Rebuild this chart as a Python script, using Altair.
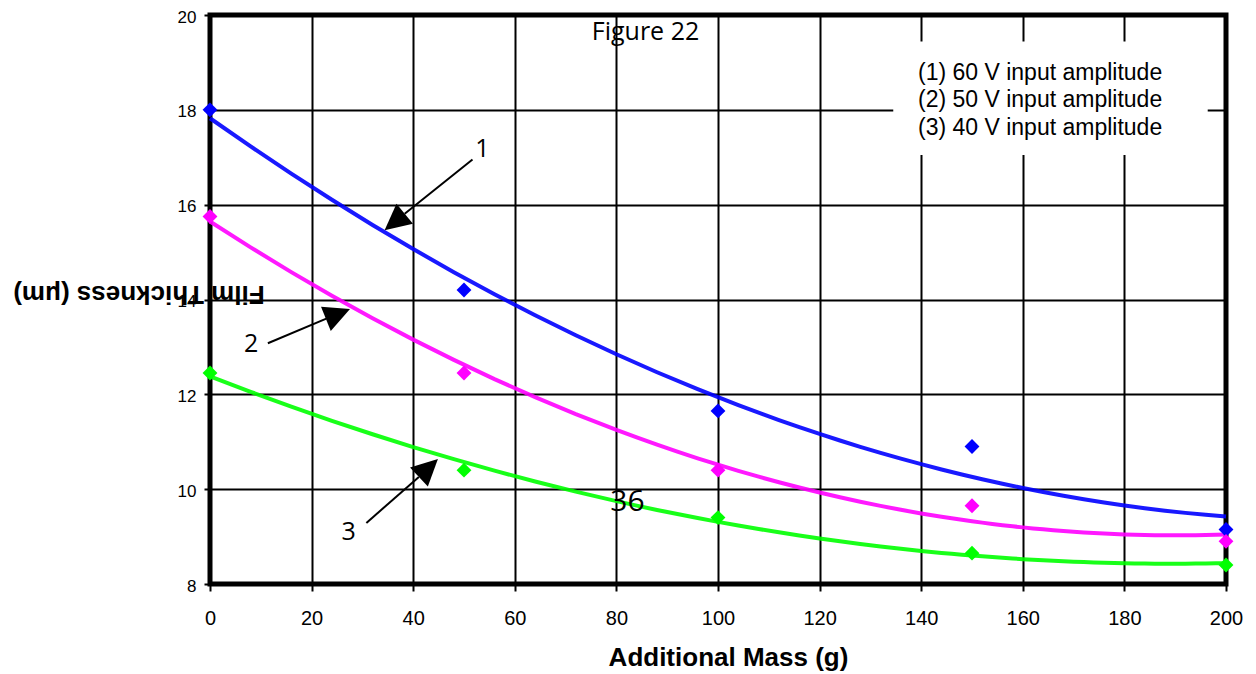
import altair as alt
import pandas as pd

# ---- data ----
mass = [0, 50, 100, 150, 200]
thick_60v = [18.0, 14.2, 11.65, 10.9, 9.15]
thick_50v = [15.75, 12.45, 10.4, 9.65, 8.9]
thick_40v = [12.45, 10.4, 9.4, 8.65, 8.4]
series_names = ["60 V", "50 V", "40 V"]
series_colors = ["#0000FF", "#FF00FF", "#00FF00"]
x_ticks = [0, 20, 40, 60, 80, 100, 120, 140, 160, 180, 200]
y_ticks = [8, 10, 12, 14, 16, 18, 20]

legend_lines = ["(1) 60 V input amplitude", "(2) 50 V input amplitude", "(3) 40 V input amplitude"]
legend_x = [163.4, 163.4, 163.4]
legend_y = [18.62, 18.05, 17.46]
legend_box = {"x": 134.5, "x2": 196.4, "y": 17.05, "y2": 19.44}

# arrows (data coordinates): line start -> line end, head centre and heading
arrow_x = [51.67, 11.39, 30.78]
arrow_y = [16.952, 13.078, 9.288]
arrow_x2 = [38.33, 22.90, 41.11]
arrow_y2 = [15.807, 13.596, 10.257]
head_x = [36.35, 25.19, 43.0]
head_y = [15.636, 13.695, 10.446]
head_angle = [230.7, 68.0, 46.8]

label_text = ["1", "2", "3"]
label_x = [53.6, 8.12, 27.29]
label_y = [17.01, 12.90, 8.937]

rows = []
for name, vals in zip(series_names, [thick_60v, thick_50v, thick_40v]):
    for m, v in zip(mass, vals):
        rows.append({"mass": m, "thickness": v, "series": name})
df = pd.DataFrame(rows)

x_scale = alt.Scale(domain=[0, 200], nice=False, zero=False)
y_scale = alt.Scale(domain=[8, 20], nice=False, zero=False)
color_scale = alt.Scale(domain=series_names, range=series_colors)

x_axis = alt.Axis(
    values=x_ticks, title="Additional Mass (g)",
    titleFont="Liberation Sans", titleFontSize=26, titleFontWeight="bold", titleColor="black",
    titleX=518, titleY=81.6, titleAlign="center", titleBaseline="alphabetic",
    labelFont="Liberation Sans", labelFontSize=20, labelColor="black", labelPadding=17,
    labelFlush=False, labelOverlap=False,
    tickSize=7, tickWidth=2, tickColor="black",
    grid=True, gridColor="black", gridWidth=2, gridOpacity=1, domain=False,
)
y_axis = alt.Axis(
    values=y_ticks, title="Film Thickness (μm)",
    titleFont="Liberation Sans", titleFontSize=26, titleFontWeight="bold", titleColor="black",
    titleAngle=180, titleX=-71.5, titleY=278.6, titleAlign="center", titleBaseline="middle",
    labelFont="Liberation Sans", labelFontSize=17, labelColor="black", labelPadding=8,
    labelOffset=2, labelFlush=False, labelOverlap=False,
    tickSize=6, tickWidth=2, tickColor="black",
    grid=True, gridColor="black", gridWidth=2, gridOpacity=1, domain=False,
)


def X(field):
    return alt.X(field, type="quantitative", scale=x_scale, axis=x_axis)


def Y(field):
    return alt.Y(field, type="quantitative", scale=y_scale, axis=y_axis)


base = alt.Chart(df)

trend = base.transform_regression(
    "mass", "thickness", method="poly", order=2, groupby=["series"], extent=[0, 200]
).mark_line(strokeWidth=4, opacity=0.9).encode(
    x=X("mass"),
    y=Y("thickness"),
    color=alt.Color("series:N", scale=color_scale, legend=None),
)

points = base.mark_point(shape="diamond", filled=True, size=220, opacity=1).encode(
    x=X("mass"),
    y=Y("thickness"),
    color=alt.Color("series:N", scale=color_scale, legend=None),
)

box_df = pd.DataFrame([legend_box])
box = alt.Chart(box_df).mark_rect(fill="white").encode(
    x=X("x"), x2="x2:Q", y=Y("y"), y2="y2:Q",
)

leg_df = pd.DataFrame({"t": legend_lines, "x": legend_x, "y": legend_y})
leg_text = alt.Chart(leg_df).mark_text(
    font="Liberation Sans", fontSize=23, color="black", align="center", baseline="alphabetic"
).encode(x=X("x"), y=Y("y"), text="t:N")

arr_df = pd.DataFrame({"x": arrow_x, "y": arrow_y, "x2": arrow_x2, "y2": arrow_y2})
arrows = alt.Chart(arr_df).mark_rule(color="black", strokeWidth=2).encode(
    x=X("x"), y=Y("y"), x2="x2:Q", y2="y2:Q",
)

head_df = pd.DataFrame({"x": head_x, "y": head_y, "a": head_angle})
heads = alt.Chart(head_df).mark_point(
    shape="M0,-1L1,1L-1,1Z", filled=True, color="black", size=676, opacity=1
).encode(x=X("x"), y=Y("y"), angle=alt.Angle("a:Q", scale=None))

lab_df = pd.DataFrame({"t": label_text, "x": label_x, "y": label_y})
labels = alt.Chart(lab_df).mark_text(
    font="Open Sans", fontSize=25, color="black", align="center", baseline="alphabetic"
).encode(x=X("x"), y=Y("y"), text="t:N")

extra_df = pd.DataFrame({"t": ["Figure 22", "36"], "x": [85.73, 82.17], "y": [19.463, 9.533], "s": [25, 30]})
extra = alt.Chart(extra_df).mark_text(
    font="Open Sans", color="black", align="center", baseline="alphabetic"
).encode(
    x=X("x"), y=Y("y"), text="t:N",
    size=alt.Size("s:Q", scale=None, legend=None),
)

chart = alt.layer(trend, box, points, arrows, heads, labels, leg_text, extra).properties(
    width=1016,
    height=569,
    padding={"left": 210, "top": 15, "right": 30, "bottom": 90},
    autosize=alt.AutoSizeParams(type="none"),
    background="white",
).configure_view(stroke="black", strokeWidth=5)

chart.save("out.html", embed_options={"renderer": "svg", "actions": False})
